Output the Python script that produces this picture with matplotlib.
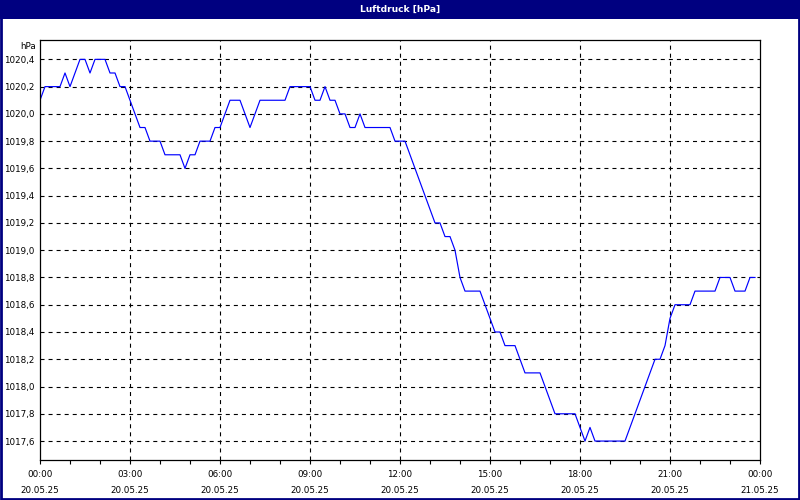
import matplotlib
matplotlib.use("Agg")
import matplotlib.pyplot as plt
from matplotlib.patches import Rectangle

# Luftdruck, alle 10 Minuten (20.05.25 00:00 bis 23:50)
pressure = [
    1020.1, 1020.2, 1020.2, 1020.2, 1020.2, 1020.3, 1020.2, 1020.3, 1020.4, 1020.4,
    1020.3, 1020.4, 1020.4, 1020.4, 1020.3, 1020.3, 1020.2, 1020.2, 1020.1, 1020.0,
    1019.9, 1019.9, 1019.8, 1019.8, 1019.8, 1019.7, 1019.7, 1019.7, 1019.7, 1019.6,
    1019.7, 1019.7, 1019.8, 1019.8, 1019.8, 1019.9, 1019.9, 1020.0, 1020.1, 1020.1,
    1020.1, 1020.0, 1019.9, 1020.0, 1020.1, 1020.1, 1020.1, 1020.1, 1020.1, 1020.1,
    1020.2, 1020.2, 1020.2, 1020.2, 1020.2, 1020.1, 1020.1, 1020.2, 1020.1, 1020.1,
    1020.0, 1020.0, 1019.9, 1019.9, 1020.0, 1019.9, 1019.9, 1019.9, 1019.9, 1019.9,
    1019.9, 1019.8, 1019.8, 1019.8, 1019.7, 1019.6, 1019.5, 1019.4, 1019.3, 1019.2,
    1019.2, 1019.1, 1019.1, 1019.0, 1018.8, 1018.7, 1018.7, 1018.7, 1018.7, 1018.6,
    1018.5, 1018.4, 1018.4, 1018.3, 1018.3, 1018.3, 1018.2, 1018.1, 1018.1, 1018.1,
    1018.1, 1018.0, 1017.9, 1017.8, 1017.8, 1017.8, 1017.8, 1017.8, 1017.7, 1017.6,
    1017.7, 1017.6, 1017.6, 1017.6, 1017.6, 1017.6, 1017.6, 1017.6, 1017.7, 1017.8,
    1017.9, 1018.0, 1018.1, 1018.2, 1018.2, 1018.3, 1018.5, 1018.6, 1018.6, 1018.6,
    1018.6, 1018.7, 1018.7, 1018.7, 1018.7, 1018.7, 1018.8, 1018.8, 1018.8, 1018.7,
    1018.7, 1018.7, 1018.8, 1018.8,
]
hours = [i / 6 for i in range(len(pressure))]

x_ticks = [0, 3, 6, 9, 12, 15, 18, 21, 24]
x_labels = ["00:00\n20.05.25", "03:00\n20.05.25", "06:00\n20.05.25",
            "09:00\n20.05.25", "12:00\n20.05.25", "15:00\n20.05.25",
            "18:00\n20.05.25", "21:00\n20.05.25", "00:00\n21.05.25"]
y_ticks = [1017.6, 1017.8, 1018.0, 1018.2, 1018.4, 1018.6, 1018.8,
           1019.0, 1019.2, 1019.4, 1019.6, 1019.8, 1020.0, 1020.2, 1020.4]

plt.rcParams['font.family'] = ['DejaVu Sans']
plt.rcParams['lines.scale_dashes'] = False
navy = '#000080'
fs = 6.3

fig = plt.figure(figsize=(8, 5), dpi=100)
fig.patch.set_facecolor('white')

# Rahmen und Titelleiste
fig.patches.append(Rectangle((0.001, 0.002), 0.998, 0.996, transform=fig.transFigure,
                             fill=False, edgecolor=navy, linewidth=2.0))
fig.patches.append(Rectangle((0, 0.962), 1, 0.038, transform=fig.transFigure,
                             facecolor=navy, edgecolor='none'))
fig.text(0.5, 0.982, "Luftdruck [hPa]", color='white', fontsize=6.6,
         fontweight='bold', ha='center', va='center')

ax = fig.add_axes([0.05, 0.08, 0.90, 0.84])
ax.plot(hours, pressure, color='#0000FF', linewidth=0.85)

ax.set_xlim(0, 24)
ax.set_ylim(1017.461, 1020.542)

ax.set_xticks(x_ticks)
ax.set_xticklabels(x_labels, fontsize=fs, linespacing=2.0)
ax.set_xticks(range(0, 25), minor=True)
ax.tick_params(axis='x', which='both', direction='out', length=3, width=0.8,
               pad=4, color='black')
ax.set_yticks(y_ticks)
ax.set_yticklabels([("%.1f" % v).replace('.', ',') for v in y_ticks], fontsize=fs)
ax.tick_params(axis='y', length=0, pad=4)

for s in ax.spines.values():
    s.set_color('black')
    s.set_linewidth(0.9)

for h in x_ticks[1:-1]:
    ax.axvline(h, color='black', linewidth=0.8, dashes=(2.9, 2.9), zorder=0)
for v in y_ticks:
    ax.axhline(v, color='black', linewidth=0.8, dashes=(2.9, 2.9), zorder=0)

ax.text(-0.005, 0.995, "hPa", transform=ax.transAxes, fontsize=fs,
        ha='right', va='top')

fig.savefig("out.png", dpi=100)
